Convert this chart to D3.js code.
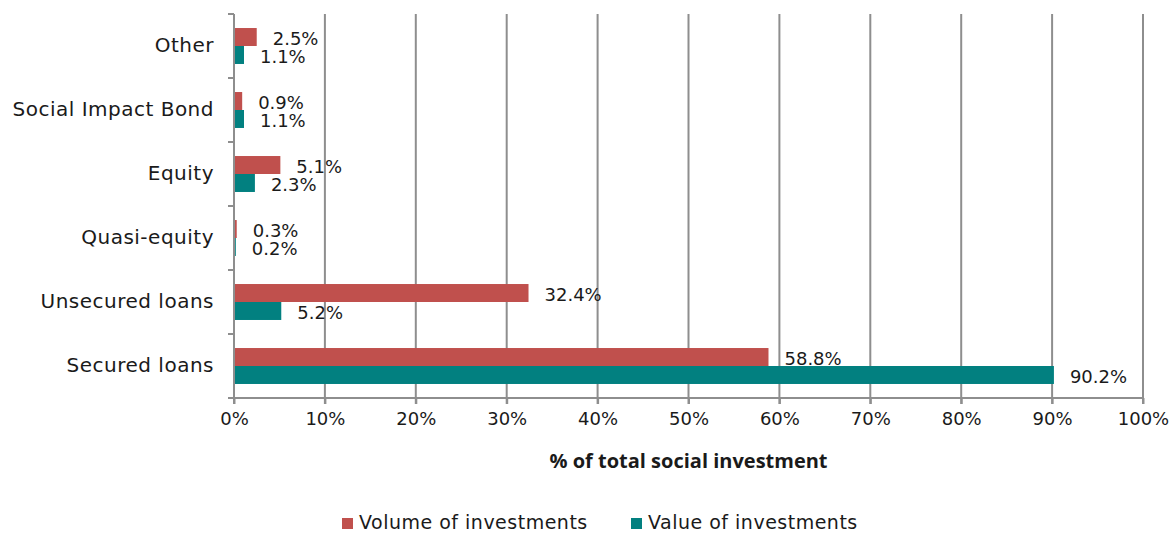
<!DOCTYPE html>
<html>
<head>
  <meta charset="utf-8">
  <script src="https://d3js.org/d3.v7.min.js"></script>
  <style>
    body { margin: 0; background: #fff; }
    text { font-family: "DejaVu Sans", sans-serif; fill: #1a1a1a; }
  </style>
</head>
<body>
  <svg id="svg" width="1173" height="534"></svg>
  <script>
    // data
    const categories = ["Other", "Social Impact Bond", "Equity", "Quasi-equity", "Unsecured loans", "Secured loans"];
    const seriesNames = ["Volume of investments", "Value of investments"];
    const volumeValues = [2.5, 0.9, 5.1, 0.3, 32.4, 58.8];
    const valueValues = [1.1, 1.1, 2.3, 0.2, 5.2, 90.2];
    const xTicks = [0, 10, 20, 30, 40, 50, 60, 70, 80, 90, 100];
    const colors = ["#C0504D", "#028080"];

    const svg = d3.select("#svg");
    const margins = { top: 14, left: 234, right: 30, bottom: 136 };
    const plotRight = 1143, plotBottom = 398;

    const xScale = d3.scaleLinear().domain([0, 100]).range([margins.left, plotRight]);
    const yScale = d3.scaleBand().domain(categories).range([margins.top, plotBottom]);
    const subScale = d3.scaleBand().domain(seriesNames)
      .range([0, yScale.bandwidth()]).paddingInner(0).paddingOuter(0.78);

    // gridlines
    svg.append("g").attr("class", "gridlines")
      .selectAll("line").data(xTicks.slice(1)).join("line")
      .attr("x1", d => xScale(d)).attr("x2", d => xScale(d))
      .attr("y1", margins.top).attr("y2", plotBottom + 6)
      .attr("stroke", "#8e8e8e").attr("stroke-width", 2);

    // bars
    const rows = categories.map((c, i) => ({ cat: c, vals: [volumeValues[i], valueValues[i]] }));
    const groups = svg.append("g").selectAll("g.cat").data(rows).join("g")
      .attr("class", "cat")
      .attr("transform", d => `translate(0,${yScale(d.cat)})`);

    groups.selectAll("rect")
      .data(d => d.vals.map((v, j) => ({ series: seriesNames[j], v: v, j: j })))
      .join("rect")
      .attr("x", xScale(0))
      .attr("y", d => subScale(d.series))
      .attr("width", d => xScale(d.v) - xScale(0))
      .attr("height", subScale.bandwidth())
      .attr("fill", d => colors[d.j]);

    groups.selectAll("text.lbl")
      .data(d => d.vals.map((v, j) => ({ series: seriesNames[j], v: v, j: j })))
      .join("text")
      .attr("class", "lbl")
      .attr("x", d => xScale(d.v) + 16)
      .attr("y", d => subScale(d.series) + subScale.bandwidth() / 2 + (d.j === 0 ? 1 : 2))
      .attr("dominant-baseline", "central")
      .style("font-size", "18px")
      .text(d => d.v.toFixed(1) + "%");

    // axes
    const leftAxis = d3.axisLeft(yScale).tickSize(0).tickPadding(20).tickFormat(d => d);
    const gl = svg.append("g").attr("transform", `translate(${margins.left},0)`).call(leftAxis);
    gl.select(".domain").remove();
    gl.selectAll("text").style("font-size", "20px").style("letter-spacing", "0.5px")
      .attr("fill", "#1a1a1a");

    // category separator ticks
    const bounds = categories.map(c => yScale(c)).concat([plotBottom]);
    svg.append("g").selectAll("line").data(bounds).join("line")
      .attr("x1", margins.left - 6).attr("x2", margins.left)
      .attr("y1", d => d).attr("y2", d => d)
      .attr("stroke", "#8e8e8e").attr("stroke-width", 2);
    svg.append("line")
      .attr("x1", margins.left).attr("x2", margins.left)
      .attr("y1", margins.top).attr("y2", plotBottom + 6)
      .attr("stroke", "#8e8e8e").attr("stroke-width", 2);

    const bottomAxis = d3.axisBottom(xScale).tickValues(xTicks).tickSize(6).tickPadding(8)
      .tickFormat(d => d + "%");
    const gb = svg.append("g").attr("transform", `translate(0,${plotBottom})`).call(bottomAxis);
    gb.select(".domain").attr("stroke", "#8e8e8e").attr("stroke-width", 2)
      .attr("d", `M${margins.left},0H${plotRight}`);
    gb.selectAll(".tick line").attr("stroke", "#8e8e8e").attr("stroke-width", 2);
    gb.selectAll(".tick text").style("font-size", "18px").attr("fill", "#1a1a1a");

    svg.append("text")
      .attr("x", (margins.left + plotRight) / 2).attr("y", 460)
      .attr("text-anchor", "middle").attr("dominant-baseline", "central")
      .style("font-family", "'Open Sans', sans-serif")
      .style("font-size", "20px").style("font-weight", "bold")
      .text("% of total social investment");

    // legend
    const legendX = [342, 631];
    const legend = svg.append("g").selectAll("g").data(seriesNames).join("g")
      .attr("transform", (d, i) => `translate(${legendX[i]},522)`);
    legend.append("rect").attr("x", 0).attr("y", -4).attr("width", 11).attr("height", 11)
      .attr("fill", (d, i) => colors[i]);
    legend.append("text").attr("x", 17).attr("y", 0)
      .attr("dominant-baseline", "central").style("font-size", "19px")
      .style("letter-spacing", "0.5px")
      .text(d => d);
  </script>
</body>
</html>
